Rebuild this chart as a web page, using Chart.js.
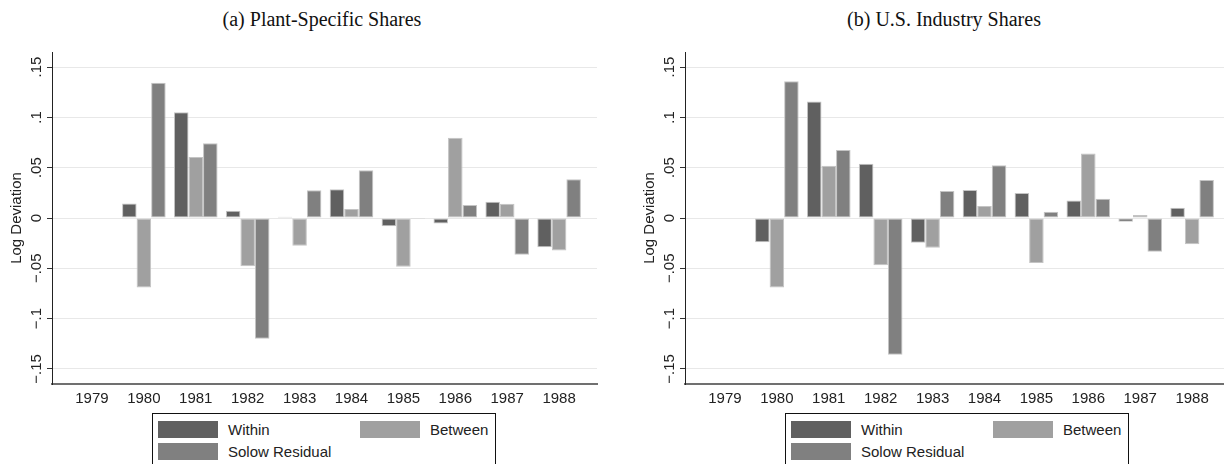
<!DOCTYPE html>
<html>
<head>
<meta charset="utf-8">
<script src="https://cdn.jsdelivr.net/npm/chart.js@4.4.0/dist/chart.umd.min.js"></script>
<style>
  html, body { margin: 0; padding: 0; background: #fff; }
  body { width: 1224px; height: 464px; overflow: hidden; position: relative; }
  .panel { position: absolute; top: 0; width: 612px; height: 464px; }
  .titre { position: absolute; top: 8px; width: 400px; text-align: center;
           font-family: "Liberation Serif", serif; font-size: 20px; color: #111; }
  .panel canvas { position: absolute; left: 0; top: 40px; }
  .legende { position: absolute; left: 152px; top: 413px; width: 344px; height: 60px;
             border: 1px solid #111; box-sizing: border-box;
             font-family: "Liberation Sans", Arial, sans-serif; font-size: 15px; color: #222; }
  .item { position: absolute; height: 18px; line-height: 18px; white-space: nowrap; }
  .item span.carre { position: absolute; left: 0; top: 0; width: 60px; height: 17px; }
  .item span.nom { position: absolute; left: 70px; top: 0; }
</style>
</head>
<body>

<div class="panel" style="left:0px">
  <div class="titre" style="left:122px">(a) Plant-Specific Shares</div>
  <canvas id="graphA" width="612" height="370"></canvas>
  <div class="legende" id="legA"></div>
</div>

<div class="panel" style="left:633px">
  <div class="titre" style="left:111px">(b) U.S. Industry Shares</div>
  <canvas id="graphB" width="612" height="370"></canvas>
  <div class="legende" id="legB"></div>
</div>

<script>
// --- Données ---
const annees = [1979, 1980, 1981, 1982, 1983, 1984, 1985, 1986, 1987, 1988];
const ticksY = [-0.15, -0.1, -0.05, 0, 0.05, 0.1, 0.15];

const nomsSeries = ['Within', 'Between', 'Solow Residual'];
const couleurs = ['#606060', '#a0a0a0', '#808080'];

// (a) Plant-Specific Shares
const withinA  = [null, 0.0145, 0.105, 0.0073, 0.0013, 0.0285, -0.0083, -0.0054, 0.0162, -0.029];
const betweenA = [null, -0.069, 0.0607, -0.048, -0.0276, 0.009, -0.0485, 0.0797, 0.0142, -0.0322];
const solowA   = [null, 0.1345, 0.0743, -0.12, 0.0275, 0.0474, -0.001, 0.013, -0.0366, 0.0385];

// (b) U.S. Industry Shares
const withinB  = [null, -0.024, 0.1158, 0.0538, -0.0246, 0.0279, 0.0249, 0.0175, -0.0037, 0.0103];
const betweenB = [null, -0.069, 0.052, -0.047, -0.0296, 0.012, -0.0448, 0.064, 0.003, -0.026];
const solowB   = [null, 0.136, 0.0677, -0.136, 0.0269, 0.0524, 0.0063, 0.0192, -0.0336, 0.0378];

const police = { family: '"Liberation Sans", Arial, sans-serif', size: 15 };

// format Stata : .15, .1, 0, −.05 ...
function formatY(v) {
  if (Math.abs(v) < 1e-9) return '0';
  let s = Math.abs(v).toFixed(2).replace(/^0/, '').replace(/0$/, '');
  return (v < 0 ? '\u2212' : '') + s;
}

function serie(valeurs) {
  return annees.map((a, i) => ({ x: a, y: valeurs[i] }));
}

function creerGraphique(idCanvas, series) {
  const ctx = document.getElementById(idCanvas).getContext('2d');
  return new Chart(ctx, {
    type: 'bar',
    data: {
      datasets: series.map((valeurs, i) => ({
        label: nomsSeries[i],
        data: serie(valeurs),
        backgroundColor: couleurs[i],
        borderColor: '#c4c4c4',
        borderWidth: 1,
        borderSkipped: false,
        categoryPercentage: 0.84,
        barPercentage: 1.0
      }))
    },
    options: {
      responsive: false,
      animation: false,
      devicePixelRatio: 1,
      layout: { padding: { top: 12, right: 15, left: 0, bottom: 0 } },
      plugins: { legend: { display: false }, tooltip: { enabled: false } },
      scales: {
        x: {
          type: 'linear',
          offset: false,
          min: 1978.23,
          max: 1988.73,
          grid: { display: false, drawTicks: false },
          border: { color: '#707070', width: 2 },
          ticks: { font: police, color: '#222', padding: 6, callback: v => String(v) },
          afterBuildTicks: s => { s.ticks = annees.map(v => ({ value: v })); },
          afterFit: s => { s.height = 26; }
        },
        y: {
          min: -0.165,
          max: 0.165,
          grid: { color: '#e8e8e8', lineWidth: 1, tickColor: '#333', tickLength: 5 },
          border: { color: '#222', width: 1 },
          ticks: { font: police, color: '#222', minRotation: 90, maxRotation: 90,
                   crossAlign: 'center', padding: -5, callback: formatY },
          title: { display: true, text: 'Log Deviation', font: police, color: '#222',
                   padding: { top: 8, bottom: 0 } },
          afterBuildTicks: s => { s.ticks = ticksY.map(v => ({ value: v })); },
          afterFit: s => { s.width = 52; }
        }
      }
    }
  });
}

// légende à deux colonnes, comme Stata
function creerLegende(idLeg) {
  const boite = document.getElementById(idLeg);
  const positions = [[5, 7], [207, 7], [5, 29]];
  nomsSeries.forEach((nom, i) => {
    const item = document.createElement('div');
    item.className = 'item';
    item.style.left = positions[i][0] + 'px';
    item.style.top = positions[i][1] + 'px';
    item.innerHTML = '<span class="carre" style="background:' + couleurs[i] + '"></span><span class="nom">' + nom + '</span>';
    boite.appendChild(item);
  });
}

creerGraphique('graphA', [withinA, betweenA, solowA]);
creerGraphique('graphB', [withinB, betweenB, solowB]);
creerLegende('legA');
creerLegende('legB');
</script>
</body>
</html>
